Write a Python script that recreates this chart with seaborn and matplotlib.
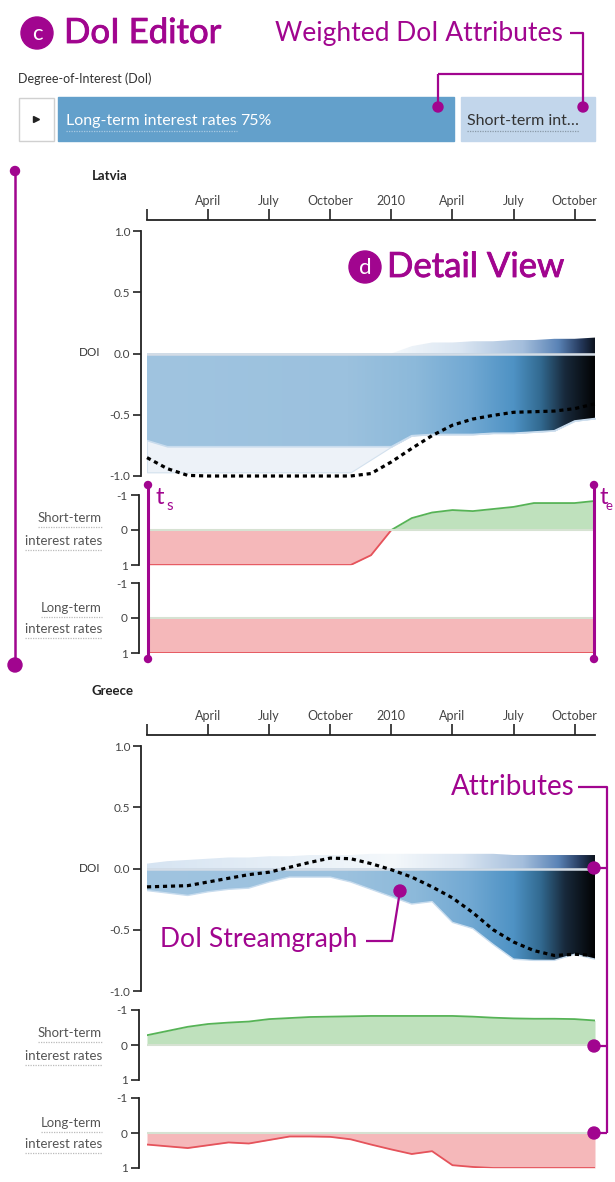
import numpy as np
import matplotlib
matplotlib.use('Agg')
import matplotlib.pyplot as plt
import matplotlib.patheffects as pe
from matplotlib.colors import LinearSegmentedColormap
from matplotlib.patches import Circle, Rectangle
import seaborn as sns

# monthly samples, Jan 2009 .. Nov 2010
months = list(range(23))
tick_months = [0, 3, 6, 9, 12, 15, 18, 21]
tick_labels = ['', 'April', 'July', 'October', '2010', 'April', 'July', 'October']
doi_ticks = [1.0, 0.5, 0.0, -0.5, -1.0]
doi_tick_labels = ['1.0', '0.5', '0.0', '-0.5', '-1.0']
attr_ticks = [-1, 0, 1]
attr_tick_labels = ['-1', '0', '1']

# Latvia
latvia_doi = [-0.85, -0.94, -0.995, -1, -1, -1, -1, -1, -1, -1, -1, -0.98, -0.885,
              -0.775, -0.67, -0.585, -0.535, -0.505, -0.48, -0.475, -0.47, -0.45, -0.41]
latvia_stream_high = [0, 0, 0, 0, 0, 0, 0, 0, 0, 0, 0, 0, 0,
                      0.06, 0.09, 0.09, 0.10, 0.10, 0.11, 0.11, 0.12, 0.12, 0.13]
latvia_stream_low = [-0.71, -0.76, -0.76, -0.76, -0.76, -0.76, -0.76, -0.76, -0.76, -0.76, -0.76, -0.76, -0.76,
                     -0.67, -0.66, -0.66, -0.66, -0.65, -0.65, -0.64, -0.63, -0.55, -0.53]
latvia_shadow_low = [-0.97, -0.97, -0.97, -0.97, -0.97, -0.97, -0.97, -0.97, -0.97, -0.97, -0.97, -0.865, -0.76,
                     -0.67, -0.66, -0.66, -0.66, -0.65, -0.65, -0.64, -0.63, -0.55, -0.53]
latvia_short = [1, 1, 1, 1, 1, 1, 1, 1, 1, 1, 1, 0.72, 0.0,
                -0.34, -0.5, -0.57, -0.54, -0.6, -0.66, -0.77, -0.77, -0.77, -0.83]
latvia_long = [1] * 23

# Greece
greece_doi = [-0.15, -0.145, -0.14, -0.11, -0.08, -0.05, -0.03, 0.01, 0.05, 0.085, 0.08, 0.04, -0.01,
              -0.07, -0.15, -0.24, -0.36, -0.50, -0.60, -0.67, -0.71, -0.70, -0.71]
greece_stream_high = [0.04, 0.06, 0.07, 0.08, 0.09, 0.09, 0.10, 0.10, 0.11, 0.11, 0.11, 0.12, 0.12,
                      0.12, 0.12, 0.12, 0.12, 0.12, 0.11, 0.11, 0.11, 0.11, 0.11]
greece_stream_low = [-0.18, -0.20, -0.22, -0.19, -0.17, -0.16, -0.11, -0.07, -0.07, -0.07, -0.11, -0.17, -0.23,
                     -0.29, -0.27, -0.44, -0.49, -0.62, -0.74, -0.75, -0.75, -0.70, -0.74]
greece_short = [-0.28, -0.40, -0.52, -0.60, -0.64, -0.67, -0.74, -0.77, -0.80, -0.81, -0.82, -0.83, -0.83,
                -0.83, -0.83, -0.83, -0.81, -0.78, -0.76, -0.75, -0.75, -0.74, -0.70]
greece_long = [0.33, 0.38, 0.43, 0.35, 0.27, 0.30, 0.20, 0.10, 0.10, 0.11, 0.18, 0.33, 0.47,
               0.60, 0.52, 0.92, 0.97, 1.0, 1.0, 1.0, 1.0, 1.0, 1.0]

MAGENTA = '#a1058f'
AXIS = '#222222'
TICK_TEXT = '#444444'
GREEN_LINE, GREEN_FILL = '#56b356', '#bfe1bd'
RED_LINE, RED_FILL = '#e5535b', '#f5b8ba'

main_cmap = LinearSegmentedColormap.from_list('main', [
    (0.0, '#a0c4e0'), (0.45, '#9bc1de'), (0.6, '#8cb9da'), (0.72, '#72a9d3'),
    (0.82, '#4e92c4'), (0.88, '#326a91'), (0.935, '#18293b'), (1.0, '#030405')])
top_cmap = LinearSegmentedColormap.from_list('top', [
    (0.0, '#d6e4f2'), (0.55, '#f4f8fb'), (0.7, '#dbe6f2'), (0.84, '#a4bedc'),
    (0.92, '#5a83b6'), (0.97, '#25395c'), (1.0, '#0d1420')])

sns.set_theme(style='white')
plt.rcParams['font.family'] = ['Lato', 'DejaVu Sans']

W, H = 615, 1182
fig = plt.figure(figsize=(W / 100, H / 100), dpi=100)


def px_axes(left, top, width, height):
    return fig.add_axes([left / W, 1 - (top + height) / H, width / W, height / H])


def gradient_fill(ax, x, y1, y2, cmap, z):
    band = ax.fill_between(x, y1, y2, facecolor='none', edgecolor='none')
    img = ax.imshow(np.linspace(0, 1, 256).reshape(1, -1), cmap=cmap, aspect='auto',
                    extent=[x[0], x[-1], -1.2, 1.2], origin='lower',
                    interpolation='bilinear', zorder=z)
    img.set_clip_path(band.get_paths()[0], transform=ax.transData)


def style_left_axis(ax, ticks, labels, outward):
    for side in ['top', 'right', 'bottom']:
        ax.spines[side].set_visible(False)
    ax.spines['left'].set_position(('outward', outward))
    ax.spines['left'].set_color(AXIS)
    ax.spines['left'].set_linewidth(1.3)
    ax.set_xticks([])
    ax.set_yticks(ticks)
    ax.set_yticklabels(labels)
    ax.tick_params(axis='y', left=True, length=6, width=1.2, color=AXIS,
                   labelsize=8.5, labelcolor=TICK_TEXT, pad=2)
    ax.patch.set_alpha(0)


def draw_attribute(ax, values):
    v = np.array(values, dtype=float)
    down = np.maximum(v, 0)
    up = np.minimum(v, 0)
    ax.fill_between(months, 0, down, color=RED_FILL, lw=0)
    ax.fill_between(months, 0, up, color=GREEN_FILL, lw=0)
    sns.lineplot(x=months, y=down, ax=ax, color=RED_LINE, lw=1.3, legend=False)
    sns.lineplot(x=months, y=up, ax=ax, color=GREEN_LINE, lw=1.3, legend=False)
    ax.axhline(0, color='#d6e2d2', lw=1.5, zorder=3)
    ax.set_xlim(0, 22)
    ax.set_ylim(1, -1)
    style_left_axis(ax, attr_ticks, attr_tick_labels, 6)


def draw_country(off, doi, high, low, shadow, short, long_):
    x = np.array(months, dtype=float)

    # time axis
    tax = px_axes(147, 208 + off, 448, 12)
    tax.set_xlim(0, 22)
    for side in ['top', 'right', 'left']:
        tax.spines[side].set_visible(False)
    tax.spines['bottom'].set_color(AXIS)
    tax.spines['bottom'].set_linewidth(1.3)
    tax.set_yticks([])
    tax.set_xticks(tick_months)
    tax.set_xticklabels(tick_labels)
    tax.tick_params(axis='x', direction='in', length=8, width=1.2, color=AXIS,
                    bottom=True, top=False, labelbottom=False, labeltop=True,
                    labelsize=9, labelcolor=TICK_TEXT, pad=1)
    tax.patch.set_alpha(0)

    # DoI streamgraph
    ax = px_axes(147, 231 + off, 448, 245)
    if shadow is not None:
        ax.fill_between(x, low, shadow, facecolor='#edf2f8', edgecolor='#d3e1ee', lw=0.8, zorder=1)
    gradient_fill(ax, x, 0, high, top_cmap, 2)
    gradient_fill(ax, x, low, 0, main_cmap, 2)
    sns.lineplot(x=x, y=low, ax=ax, color='#c8dcee', lw=1.0, legend=False, zorder=3)
    ax.axhline(0, color='#d3dce6', lw=1.8, zorder=4)
    sns.lineplot(x=x, y=doi, ax=ax, color='black', lw=2.3, linestyle=(0, (1.3, 1.2)),
                 legend=False, zorder=5, clip_on=False)
    ax.set_xlim(0, 22)
    ax.set_ylim(-1, 1)
    style_left_axis(ax, doi_ticks, doi_tick_labels, 4)

    # attribute rows
    draw_attribute(px_axes(147, 495 + off, 448, 70), short)
    draw_attribute(px_axes(147, 583 + off, 448, 70), long_)


draw_country(0, latvia_doi, latvia_stream_high, latvia_stream_low, latvia_shadow_low,
             latvia_short, latvia_long)
draw_country(515, greece_doi, greece_stream_high, greece_stream_low, None,
             greece_short, greece_long)

# overlay in pixel coordinates for labels and annotations
ov = fig.add_axes([0, 0, 1, 1], zorder=10)
ov.set_xlim(0, W)
ov.set_ylim(H, 0)
ov.axis('off')
renderer = fig.canvas.get_renderer()
heavy = [pe.withStroke(linewidth=0.6, foreground=MAGENTA)]


def dot(x, y, r):
    ov.add_patch(Circle((x, y), r, color=MAGENTA, zorder=6))


def mline(xs, ys, lw=1.6):
    ov.plot(xs, ys, color=MAGENTA, lw=lw, solid_capstyle='butt', zorder=5)


def dotted_under(t, color, gap=3):
    bb = t.get_window_extent(renderer)
    y = H - bb.y0 + gap
    ov.plot([bb.x0, bb.x1], [y, y], color=color, lw=0.9, linestyle=(0, (1, 1)), zorder=4)


# header: DoI editor
ov.add_patch(Circle((37, 33), 16, color=MAGENTA))
ov.text(37, 34, 'c', color='white', fontsize=16, ha='center', va='center')
ov.text(64, 33, 'DoI Editor', color=MAGENTA, fontsize=25, va='center', path_effects=heavy)
ov.text(275, 33, 'Weighted DoI Attributes', color=MAGENTA, fontsize=19, va='center')
ov.text(18, 79, 'Degree-of-Interest (DoI)', fontsize=9, color='#333333', va='center')

ov.add_patch(Rectangle((19, 98), 35, 43, facecolor='white', edgecolor='#d0d0d0', lw=1))
ov.plot([36], [119], marker='>', ms=4, color='#222222')
ov.add_patch(Rectangle((58, 97), 396, 44, color='#63a0cb'))
ov.add_patch(Rectangle((461, 97), 134, 44, color='#c2d6eb'))
t_long = ov.text(66, 121, 'Long-term interest rates', color='white', fontsize=11.5, va='center')
bb = t_long.get_window_extent(renderer)
ov.text(bb.x1 + 3, 121, '75%', color='white', fontsize=11.5, va='center')
dotted_under(t_long, '#a9c9e2')
t_short = ov.text(467, 121, 'Short-term int\u2026', color='#333333', fontsize=11.5, va='center')
dotted_under(t_short, '#8a9aa8')

mline([570, 583, 583], [33, 33, 107])
mline([438, 583], [74, 74])
mline([438, 438], [74, 107])
dot(438, 107, 5)
dot(583, 107, 5)

# row labels
for off, name in [(0, 'Latvia'), (515, 'Greece')]:
    ov.text(92, 176 + off, name, fontsize=9.5, fontweight='bold', color='#222222', va='center')
    ov.text(100, 353 + off, 'DOI', fontsize=8.5, color='#333333', ha='right', va='center')
    for txt, y in [('Short-term', 518), ('interest rates', 541), ('Long-term', 608), ('interest rates', 629)]:
        t = ov.text(102, y + off, txt, fontsize=9.5, color='#555555', ha='right', va='center')
        dotted_under(t, '#bbbbbb')

# Latvia annotations
mline([15, 15], [171, 665], lw=1.8)
dot(15, 171, 4.5)
dot(15, 665, 7)
for xs in [148, 594]:
    mline([xs, xs], [485, 659], lw=2.2)
    dot(xs, 485, 3.5)
    dot(xs, 659, 3.5)
ov.text(156, 497, 't', color=MAGENTA, fontsize=17, va='center')
ov.text(166, 506, 's', color=MAGENTA, fontsize=11, va='center')
ov.text(599, 497, 't', color=MAGENTA, fontsize=17, va='center')
ov.text(606, 506, 'e', color=MAGENTA, fontsize=9.5, va='center')

ov.add_patch(Circle((365, 267), 16, color=MAGENTA))
ov.text(365, 268, 'd', color='white', fontsize=16, ha='center', va='center')
ov.text(387, 267, 'Detail View', color=MAGENTA, fontsize=25, va='center', path_effects=heavy)

# Greece annotations
ov.text(451, 787, 'Attributes', color=MAGENTA, fontsize=20, va='center')
mline([578, 607, 607], [787, 787, 1133])
for y in [868, 1046, 1133]:
    mline([594, 607], [y, y])
    dot(594, y, 6)

ov.text(160, 940, 'DoI Streamgraph', color=MAGENTA, fontsize=19, va='center')
mline([366, 392, 400], [941, 941, 891])
dot(400, 891, 6)

fig.savefig('out.png', dpi=100)
